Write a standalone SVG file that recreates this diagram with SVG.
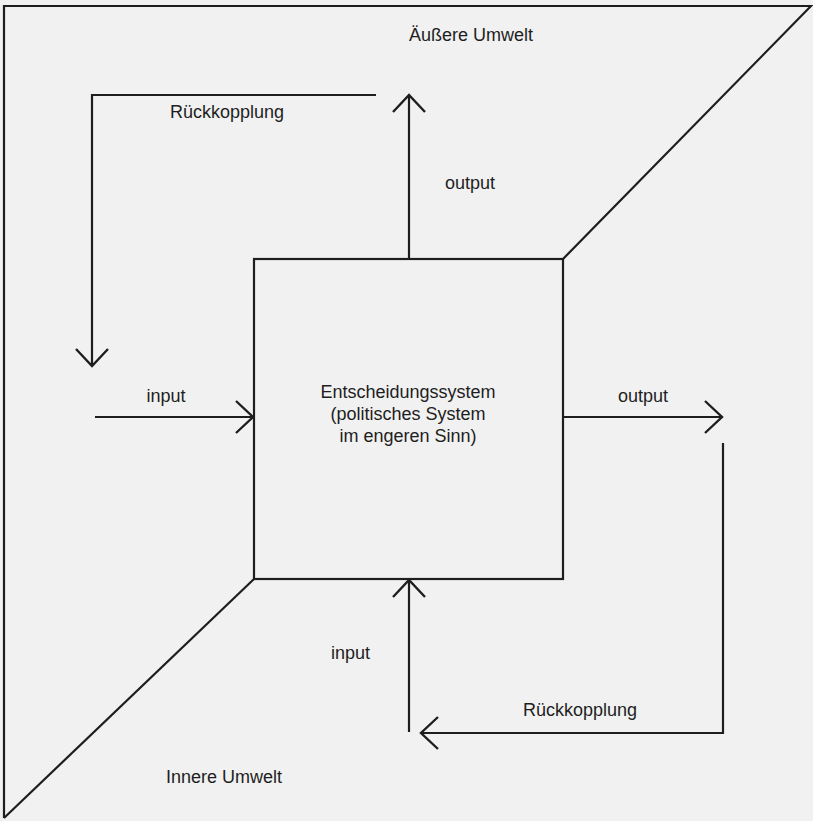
<svg xmlns="http://www.w3.org/2000/svg" width="813" height="821" viewBox="0 0 813 821">
<style>
.ln{fill:none;stroke:#1e1e1e;stroke-width:2.2;stroke-linecap:butt;stroke-linejoin:miter}
.ah{fill:none;stroke:#1e1e1e;stroke-width:2.4;stroke-linecap:butt;stroke-linejoin:miter}
.t{font-family:"Liberation Sans",Arial,Helvetica,sans-serif;font-size:18px;fill:#1e1e1e}
.c{text-anchor:middle}
</style>
<defs>
<marker id="arr" viewBox="-18 -10 20 20" refX="0" refY="0" markerWidth="20" markerHeight="20" markerUnits="userSpaceOnUse" orient="auto">
<path d="M-17,-15 L0,0 L-17,15" class="ah" transform="scale(0.62)"/>
</marker>
</defs>
<rect width="813" height="821" fill="#f1f1f1"/>
<g id="outer-environment">
<path class="ln" d="M4,818 L4,6 L811,6 L563,259"/>
<text class="t" x="409" y="41">Äußere Umwelt</text>
</g>
<g id="inner-environment">
<path class="ln" d="M254,579 L4,818"/>
<text class="t" x="166" y="783">Innere Umwelt</text>
</g>
<g id="decision-system">
<rect class="ln" x="254" y="259" width="309" height="320"/>
<text class="t c" x="408" y="398">Entscheidungssystem</text>
<text class="t c" x="408" y="420">(politisches System</text>
<text class="t c" x="408" y="442">im engeren Sinn)</text>
</g>
<g id="connectors">
<path class="ln" d="M409,259 L409,96"/>
<path class="ah" d="M393,112 L409,95 L425,112"/>
<path class="ln" d="M376,95 L92,95 L92,365"/>
<path class="ah" d="M76,349 L92,366 L108,349"/>
<path class="ln" d="M95,417 L252,417"/>
<path class="ah" d="M236,401 L253,417 L236,433"/>
<path class="ln" d="M564,417 L721,417"/>
<path class="ah" d="M705,401 L722,417 L705,433"/>
<path class="ln" d="M723,443 L723,733 L422,733"/>
<path class="ah" d="M438,717 L421,733 L438,749"/>
<path class="ln" d="M409,732 L409,581"/>
<path class="ah" d="M393,597 L409,580 L425,597"/>
</g>
<g id="labels">
<text class="t" x="170" y="118">Rückkopplung</text>
<text class="t" x="445" y="189">output</text>
<text class="t c" x="166" y="402">input</text>
<text class="t c" x="643" y="402">output</text>
<text class="t" x="331" y="659">input</text>
<text class="t" x="523" y="716">Rückkopplung</text>
</g>
</svg>
